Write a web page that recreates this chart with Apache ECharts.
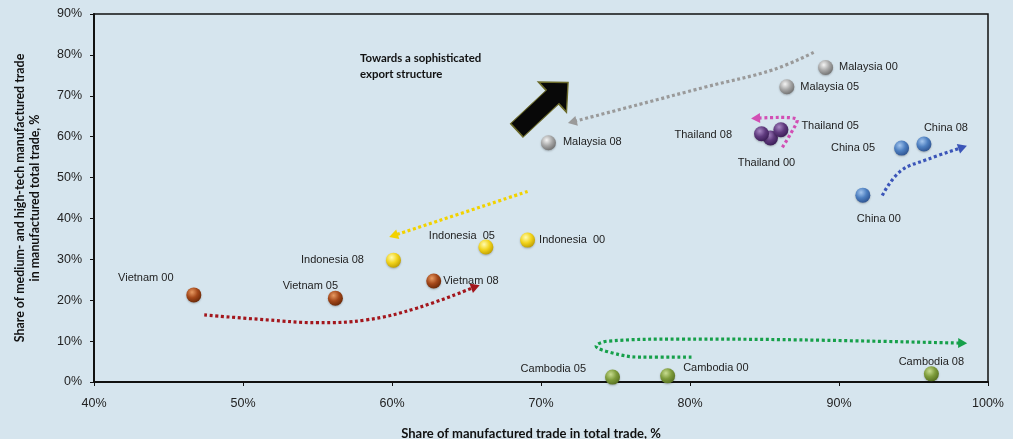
<!DOCTYPE html>
<html><head><meta charset="utf-8">
<script src="https://cdn.jsdelivr.net/npm/echarts@6/dist/echarts.min.js"></script>
<style>html,body{margin:0;padding:0;background:#d6e5ee}#c{width:1013px;height:439px}</style>
</head><body><div id="c"></div>
<script>
// ---- data ----
const years = ['00', '05', '08'];
const malaysiaX = [89.1, 86.5, 70.5];
const malaysiaY = [76.9, 72.2, 58.5];
const thailandX = [85.4, 86.1, 84.8];
const thailandY = [59.7, 61.7, 60.7];
const chinaX = [91.6, 94.2, 95.7];
const chinaY = [45.7, 57.2, 58.2];
const indonesiaX = [69.1, 66.3, 60.1];
const indonesiaY = [34.7, 33.0, 29.8];
const vietnamX = [46.7, 56.2, 62.8];
const vietnamY = [21.3, 20.5, 24.7];
const cambodiaX = [78.5, 74.8, 96.2];
const cambodiaY = [1.5, 1.2, 2.0];
const xTickValues = [40, 50, 60, 70, 80, 90, 100];
const yTickValues = [0, 10, 20, 30, 40, 50, 60, 70, 80, 90];
const indonesiaLabels = ['Indonesia  00', 'Indonesia  05', 'Indonesia 08'];

// trend arrows (data coordinates)
const grayArrowX = [88.3, 85.6, 81.1, 76.6, 72.1];
const grayArrowY = [80.6, 76.4, 72.2, 67.9, 63.6];
const pinkArrowX = [86.2, 86.8, 87.2, 86.0, 84.4];
const pinkArrowY = [57.4, 61.0, 64.0, 64.7, 64.5];
const blueArrowX = [92.9, 94.1, 95.9, 98.3];
const blueArrowY = [45.6, 51.5, 54.4, 57.4];
const yellowArrowX = [69.1, 60.1];
const yellowArrowY = [46.6, 35.8];
const redArrowX = [47.4, 51.6, 55.0, 58.3, 61.7, 65.6];
const redArrowY = [16.4, 15.2, 14.5, 15.2, 18.1, 23.3];
const greenArrowX = [80.1, 76.6, 74.8, 73.7, 74.5, 79.3, 87.4, 98.3];
const greenArrowY = [6.1, 6.1, 7.1, 8.8, 10.0, 10.5, 10.3, 9.5];
const bigArrowX = [70.1];
const bigArrowY = [67.4];

// ---- styling ----
const FONT = 'Liberation Sans, Arial, sans-serif';
const TFONT = 'Lato, sans-serif';
function sphere(c0, c1, c2) {
  return new echarts.graphic.RadialGradient(0.38, 0.32, 0.75, [
    {offset: 0, color: c0}, {offset: 0.5, color: c1}, {offset: 1, color: c2}]);
}
const countryDefs = [
  {name: 'Malaysia', xs: malaysiaX, ys: malaysiaY, col: sphere('#f4f4f4', '#a8a8a8', '#6a6a6a'),
   lab: [{position: 'right', distance: 6, offset: [0, -1]}, {position: 'right', distance: 6}, {position: 'right', distance: 7, offset: [0, -1]}]},
  {name: 'Thailand', xs: thailandX, ys: thailandY, col: sphere('#a888c4', '#5f3a7e', '#371a52'),
   lab: [{position: 'bottom', distance: 12, offset: [-4, 0]}, {position: 'right', distance: 13, offset: [0, -4]}, {position: 'left', distance: 22, offset: [0, 1]}]},
  {name: 'China', xs: chinaX, ys: chinaY, col: sphere('#a4c6ee', '#4d7fc0', '#2b4f8c'),
   lab: [{position: 'bottom', distance: 11, offset: [16, 0]}, {position: 'left', distance: 19}, {position: 'top', distance: 3, offset: [22, 0]}]},
  {name: 'Indonesia', xs: indonesiaX, ys: indonesiaY, col: sphere('#fffbb0', '#f2d41c', '#b89800'),
   lab: [{position: 'right', distance: 4}, {position: 'top', distance: -2, offset: [-24, 0]}, {position: 'left', distance: 22}]},
  {name: 'Vietnam', xs: vietnamX, ys: vietnamY, col: sphere('#e89a62', '#a4481a', '#632506'),
   lab: [{position: 'top', distance: 4, offset: [-48, 0]}, {position: 'top', distance: -1, offset: [-25, 0]}, {position: 'right', distance: 2}]},
  {name: 'Cambodia', xs: cambodiaX, ys: cambodiaY, col: sphere('#c8dc90', '#7e9c3c', '#536c1e'),
   lab: [{position: 'right', distance: 8, offset: [0, -8]}, {position: 'left', distance: 19, offset: [0, -8]}, {position: 'top', distance: -1}]}
];
function labelText(name, k) {
  return name === 'Indonesia' ? indonesiaLabels[k] : name + ' ' + years[k];
}

const arrowDefs = [
  {xs: grayArrowX, ys: grayArrowY, color: '#9a9a9a'},
  {xs: pinkArrowX, ys: pinkArrowY, color: '#d24fb4'},
  {xs: blueArrowX, ys: blueArrowY, color: '#3b55b8'},
  {xs: yellowArrowX, ys: yellowArrowY, color: '#f2d200'},
  {xs: redArrowX, ys: redArrowY, color: '#a3161c'},
  {xs: greenArrowX, ys: greenArrowY, color: '#16a04a'}
];

const series = [];
arrowDefs.forEach((a, i) => {
  series.push({
    type: 'line', smooth: 0.4, symbol: 'none', silent: true, z: 2,
    data: a.xs.map((x, k) => [x, a.ys[k]]),
    lineStyle: {color: a.color, width: 3.2, type: [3, 2.6], cap: 'butt'}
  });
  series.push({
    id: 'head' + i, type: 'scatter', symbol: 'triangle', symbolSize: [10, 9], silent: true, z: 3,
    data: [[a.xs[a.xs.length - 1], a.ys[a.ys.length - 1]]],
    itemStyle: {color: a.color, opacity: 1}
  });
});
// big black arrow
series.push({
  type: 'scatter', silent: true, z: 4,
  symbol: 'path://M0 -9 L48 -9 L48 -20 L69 0 L48 20 L48 9 L0 9 Z',
  symbolSize: [70, 41], symbolRotate: 43,
  data: bigArrowX.map((x, k) => [x, bigArrowY[k]]),
  itemStyle: {color: '#080808', borderColor: '#6b6a2a', borderWidth: 1.3, opacity: 1}
});
countryDefs.forEach(c => {
  series.push({
    type: 'scatter', name: c.name, symbolSize: 15, z: 5,
    data: c.xs.map((x, k) => ({
      value: [x, c.ys[k]],
      label: Object.assign({show: true, formatter: labelText(c.name, k)}, c.lab[k])
    })),
    itemStyle: {color: c.col, opacity: 1, shadowColor: 'rgba(0,0,0,0.25)', shadowBlur: 2, shadowOffsetY: 1},
    label: {color: '#222', fontFamily: FONT, fontSize: 11}
  });
});

const chart = echarts.init(document.getElementById('c'));
chart.setOption({
  backgroundColor: '#d6e5ee',
  animation: false,
  grid: {left: 94, right: 25, top: 14, bottom: 57, outerBoundsMode: 'none', containLabel: false,
    show: true, borderColor: '#111', borderWidth: 1.5, backgroundColor: 'transparent'},
  xAxis: {
    type: 'value', min: xTickValues[0], max: xTickValues[xTickValues.length - 1], interval: 10,
    axisLine: {lineStyle: {color: '#111', width: 2}},
    axisTick: {show: true, length: 4, lineStyle: {color: '#111'}},
    splitLine: {show: false},
    axisLabel: {formatter: '{value}%', color: '#222', fontFamily: FONT, fontSize: 12.5, margin: 15},
    name: 'Share of manufactured trade in total trade, %', nameLocation: 'middle', nameGap: 45,
    nameTextStyle: {fontFamily: TFONT, fontWeight: 'bold', fontSize: 13, color: '#111', padding: [0, 20, 0, 0]}
  },
  yAxis: {
    type: 'value', min: yTickValues[0], max: yTickValues[yTickValues.length - 1], interval: 10,
    axisLine: {show: true, lineStyle: {color: '#111', width: 2}},
    axisTick: {show: true, length: 4, lineStyle: {color: '#111'}},
    splitLine: {show: false},
    axisLabel: {formatter: '{value}%', color: '#222', fontFamily: FONT, fontSize: 12.5, margin: 12},
    name: 'Share of medium- and high-tech manufactured trade\nin manufactured total trade, %', nameLocation: 'middle', nameGap: 52,
    nameTextStyle: {fontFamily: TFONT, fontWeight: 'bold', fontSize: 12.4, color: '#111', lineHeight: 15}
  },
  graphic: [{
    type: 'text', left: 360, top: 50, silent: true,
    style: {text: 'Towards a sophisticated\nexport structure', fontFamily: TFONT, fontWeight: 'bold', fontSize: 11.4, lineHeight: 16, fill: '#111'}
  }],
  series: series
});

// rotate arrow heads along the final segment direction
const upd = arrowDefs.map((a, i) => {
  const n = a.xs.length;
  const p1 = chart.convertToPixel({gridIndex: 0}, [a.xs[n - 2], a.ys[n - 2]]);
  const p2 = chart.convertToPixel({gridIndex: 0}, [a.xs[n - 1], a.ys[n - 1]]);
  const ang = Math.atan2(-(p2[1] - p1[1]), p2[0] - p1[0]) * 180 / Math.PI;
  return {id: 'head' + i, symbolRotate: ang - 90};
});
chart.setOption({series: upd});
</script>
</body></html>
